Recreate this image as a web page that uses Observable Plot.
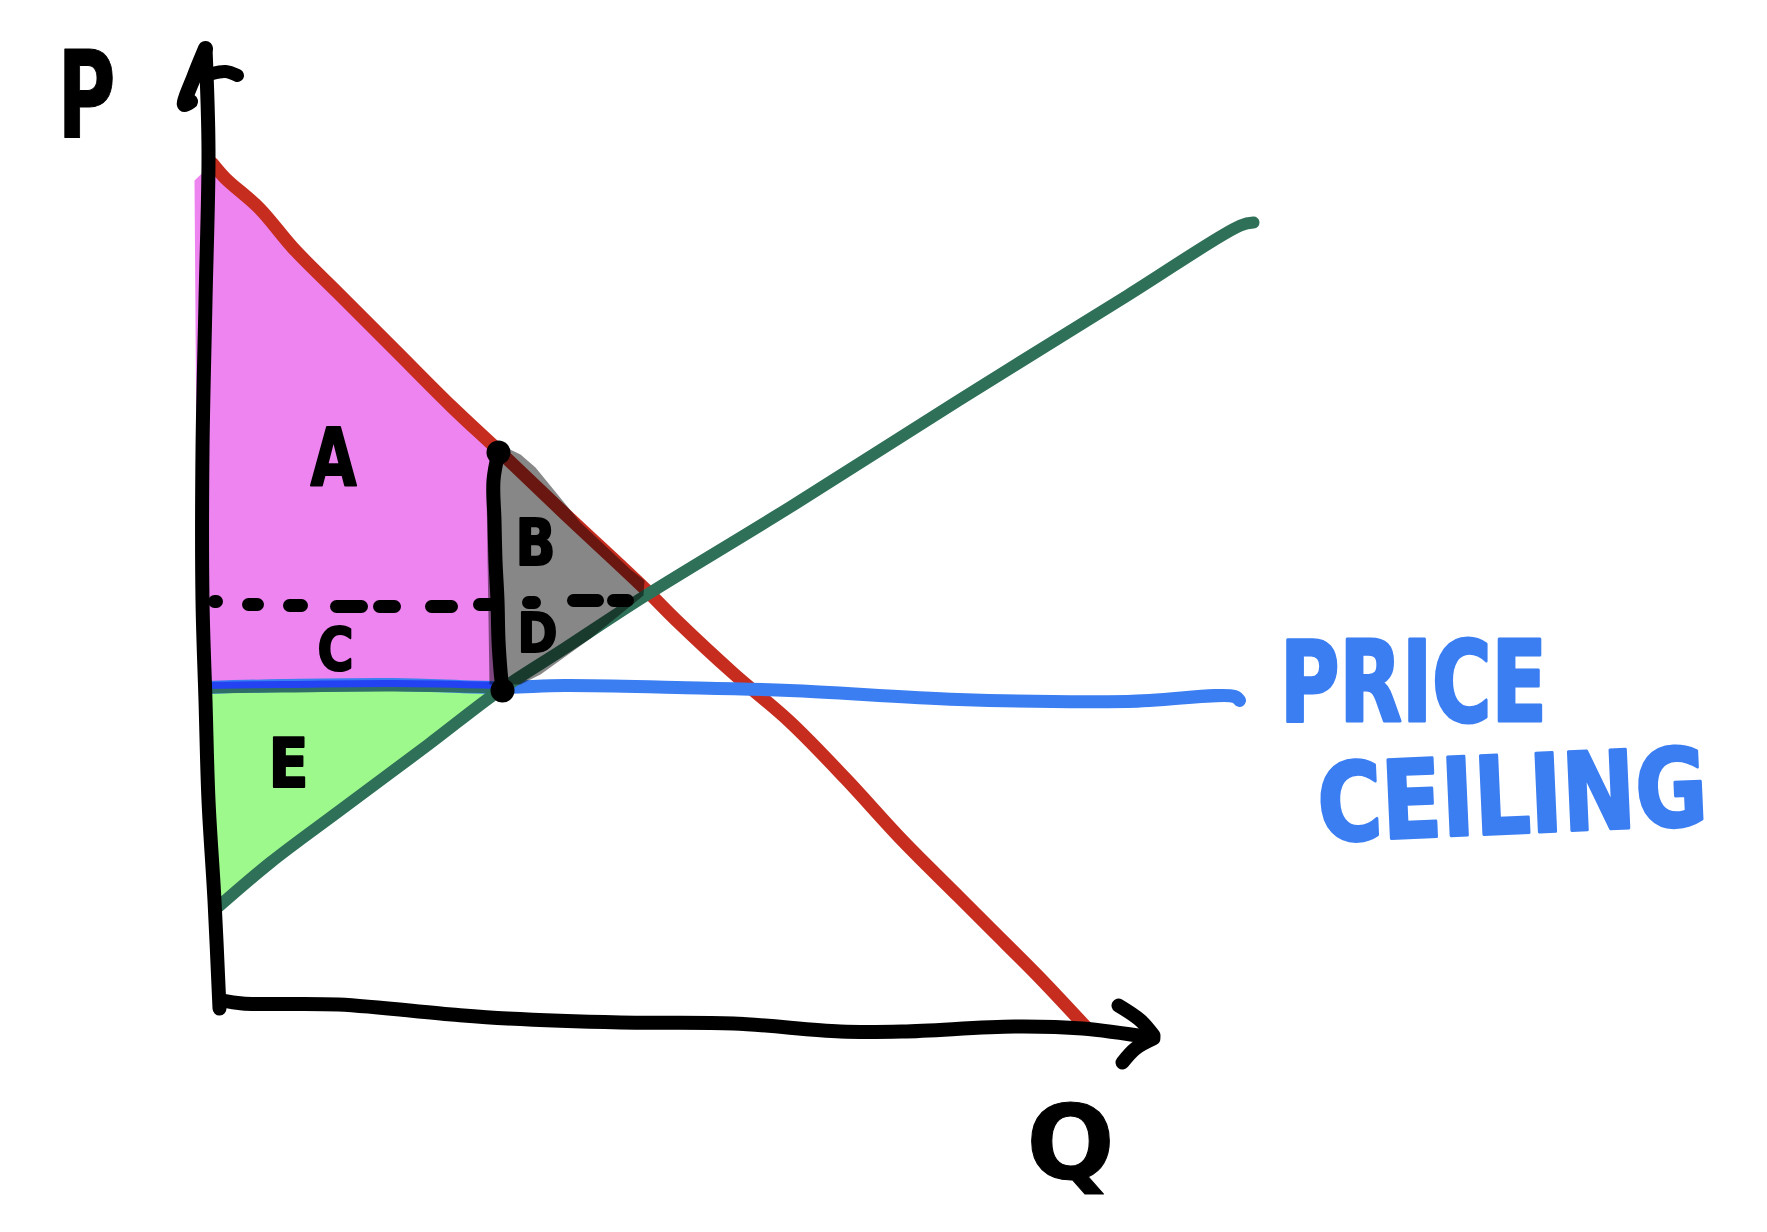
<!DOCTYPE html>
<html>
<head>
<meta charset="utf-8">
<script src="https://cdn.jsdelivr.net/npm/d3@7"></script>
<script src="https://cdn.jsdelivr.net/npm/@observablehq/plot@0.6"></script>
<style>
  html, body { margin: 0; padding: 0; background: #ffffff; }
  #chart svg { display: block; }
</style>
</head>
<body>
<div id="chart"></div>
<script>
// ---- data (Q = quantity, P = price) ----
const demandQ = [0.2, 1.5, 4.9, 8.3, 12.8, 18.4, 24.1, 28.9, 35.4, 43.2, 46.6, 52.3, 57.9, 63.5, 69.2, 74.8, 78.2, 82.7, 87.5];
const demandP = [84.7, 83.2, 80.2, 76.2, 71.7, 66.1, 60.4, 55.9, 49.7, 42.4, 39.0, 33.7, 28.9, 23.2, 17.0, 11.4, 8.0, 3.5, -1.6];

const supplyQ = [0.7, 6.0, 12.8, 21.8, 28.9, 35.4, 43.2, 57.9, 74.8, 91.7, 103.0, 104.3];
const supplyP = [10.3, 14.8, 19.9, 26.6, 32.0, 36.2, 41.3, 50.3, 61.0, 71.5, 78.5, 78.8];

const ceilingQ = [-0.4, 7.2, 18.4, 28.9, 35.4, 46.6, 57.9, 74.8, 91.7, 102.4, 102.9];
const ceilingP = [32.3, 32.5, 32.6, 32.3, 32.5, 32.3, 32.0, 31.1, 30.9, 31.4, 31.0];

const ceilingLeftQ = [-0.4, 7.2, 18.4, 28.9];
const ceilingLeftP = [32.5, 32.6, 32.7, 32.5];

// shaded regions
const pinkQ = [-1.6, 0.2, 1.5, 4.9, 8.3, 12.8, 18.4, 24.1, 28.4, 28.4, -0.8, -1.4];
const pinkP = [83.0, 84.7, 83.2, 80.2, 76.2, 71.7, 66.1, 60.4, 56.2, 32.3, 32.3, 55.0];

const greenQ = [-0.8, 28.8, 21.8, 12.8, 6.0, 0.7, -0.3, -1.0];
const greenP = [32.3, 32.3, 26.6, 19.9, 14.8, 10.3, 12.0, 28.0];

const greyQ = [27.6, 28.2, 29.3, 31.0, 32.5, 37.0, 42.0, 43.4, 43.3, 38.0, 33.0, 31.0, 27.9];
const greyP = [52.0, 55.2, 56.4, 55.6, 54.3, 48.8, 44.1, 43.0, 41.5, 37.2, 33.6, 32.6, 32.6];

// vertical line at the ceiling quantity
const vertQ = [28.8, 28.3, 28.4, 28.5, 28.7, 28.8, 29.0, 29.2];
const vertP = [55.8, 53.0, 49.0, 45.0, 41.0, 37.0, 34.0, 32.0];

// dashed equilibrium price line (centres of the dash end caps)
const dashQ1 = [0.4, 3.8, 7.9, 12.6, 16.9, 22.1, 26.9, 31.8, 36.3, 40.3];
const dashQ2 = [0.6, 4.7, 9.1, 15.1, 18.4, 24.1, 28.1, 32.4, 38.7, 41.7];
const dashP  = [40.9, 40.6, 40.5, 40.4, 40.4, 40.4, 40.6, 40.8, 41.0, 41.0];

// axes
const yAxisQ = [0.9, 0.4, -0.2, -0.5, -0.8, -0.8, -0.5, -0.2, -0.5];
const yAxisP = [0.2, 11.0, 21.0, 31.0, 41.0, 56.0, 71.0, 86.0, 96.2];
const yArrowLeftQ = [-0.5, -1.6, -2.6, -2.0];
const yArrowLeftP = [96.2, 93.5, 90.6, 90.9];
const yArrowRightQ = [0.2, 1.5, 2.7];
const yArrowRightP = [93.7, 93.9, 93.5];

const xAxisQ = [1.2, 3.2, 12.8, 24.1, 29.7, 41.0, 52.3, 63.0, 69.2, 80.4, 87.2, 94.0];
const xAxisP = [1.0, 0.7, 0.6, -0.4, -0.8, -1.2, -1.3, -2.1, -2.1, -1.6, -1.8, -2.7];
const xArrowUpQ = [90.8, 93.0, 94.3];
const xArrowUpP = [0.5, -1.0, -2.5];
const xArrowLowQ = [94.3, 92.5, 91.2];
const xArrowLowP = [-2.8, -3.8, -5.2];

// labels
const regionLabels = ["A", "B", "C", "D", "E"];
const regionQ = [12.3, 32.5, 12.5, 32.7, 7.8];
const regionP = [55.0, 46.6, 35.9, 37.6, 24.5];

const axisLabels = ["P", "Q"];
const axisLabelQ = [-12.4, 86.0];
const axisLabelP = [91.2, -13.5];

const ceilingWords = ["PRICE", "CEILING"];
const ceilingWordQ = [120.3, 130.2];
const ceilingWordP = [32.5, 21.2];

// ---- helpers ----
const pts = (qs, ps) => qs.map((q, i) => ({q, p: ps[i]}));
const labelRows = (ts, qs, ps) => ts.map((t, i) => ({t, q: qs[i], p: ps[i]}));
const dashRows = dashQ1.map((q1, i) => ({q1, q2: dashQ2[i], p: dashP[i]}));

// styling (glyph sizes / drawn widths in px)
const letterSize = {A: 80, B: 64, C: 58, D: 55, E: 68, P: 122, Q: 104};
const letterWidth = {A: 46, B: 40, C: 36, D: 40, E: 40, P: 58, Q: 88, PRICE: 267, CEILING: 390};
const handFont = "'DejaVu Sans Condensed', 'DejaVu Sans', sans-serif";

const RED = "#c62d1f", GREEN = "#2f7058", BLUE = "#3b7ef2", INK = "#000000";

const lineOpts = (color, w) => ({x: "q", y: "p", stroke: color, strokeWidth: w, strokeLinecap: "round", strokeLinejoin: "round", curve: "catmull-rom"});

const vert = pts(vertQ, vertP);

const chart = Plot.plot({
  width: 1767,
  height: 1232,
  margin: 0,
  x: {domain: [-21, 155.7], axis: null},
  y: {domain: [-22.2, 101], axis: null},
  style: {background: "#ffffff", overflow: "visible"},
  marks: [
    // fills
    Plot.line(pts(pinkQ, pinkP), {x: "q", y: "p", fill: "#ee84f0", stroke: "none"}),
    Plot.line(pts(greenQ, greenP), {x: "q", y: "p", fill: "#9ef98c", stroke: "none"}),

    // curves
    Plot.line(pts(demandQ, demandP), lineOpts(RED, 13)),
    Plot.line(pts(ceilingQ, ceilingP), lineOpts(BLUE, 13)),
    Plot.line(pts(ceilingLeftQ, ceilingLeftP.map(v => v - 0.45)), lineOpts("#2f6e66", 7)),
    Plot.line(pts(ceilingLeftQ, ceilingLeftP), lineOpts("#2343f2", 7)),
    Plot.line(pts(supplyQ, supplyP), lineOpts(GREEN, 12)),

    // grey deadweight-loss overlay (semi-transparent, over the lines)
    Plot.line(pts(greyQ, greyP), {x: "q", y: "p", fill: "#000000", fillOpacity: 0.47, stroke: "none"}),

    // axes
    Plot.line(pts(yAxisQ, yAxisP), lineOpts(INK, 14)),
    Plot.line(pts(yArrowLeftQ, yArrowLeftP), lineOpts(INK, 15)),
    Plot.line(pts(yArrowRightQ, yArrowRightP), lineOpts(INK, 13)),
    Plot.line(pts(xAxisQ, xAxisP), lineOpts(INK, 14)),
    Plot.line(pts(xArrowUpQ, xArrowUpP), lineOpts(INK, 14)),
    Plot.line(pts(xArrowLowQ, xArrowLowP), lineOpts(INK, 14)),

    // vertical line and dashed line
    Plot.line(vert, lineOpts(INK, 14)),
    Plot.dot([vert[0], vert[vert.length - 1]], {x: "q", y: "p", r: 12, fill: INK, stroke: "none"}),
    Plot.link(dashRows, {x1: "q1", x2: "q2", y1: "p", y2: "p", stroke: INK, strokeWidth: 13, strokeLinecap: "round"}),

    // region letters
    Plot.text(labelRows(regionLabels, regionQ, regionP), {
      x: "q", y: "p", text: "t",
      fontSize: d => letterSize[d.t], fontWeight: "bold", fontFamily: handFont,
      fill: INK, stroke: INK, strokeWidth: 2
    }),
    // axis letters
    Plot.text(labelRows(axisLabels, axisLabelQ, axisLabelP), {
      x: "q", y: "p", text: "t",
      fontSize: d => letterSize[d.t], fontWeight: "bold", fontFamily: handFont,
      fill: INK, stroke: INK, strokeWidth: 1
    }),
    // price ceiling annotation
    Plot.text(labelRows(ceilingWords, ceilingWordQ, ceilingWordP).slice(0, 1), {
      x: "q", y: "p", text: "t",
      fontSize: 112, fontWeight: "bold", fontFamily: handFont,
      fill: BLUE, stroke: BLUE, strokeWidth: 3
    }),
    Plot.text(labelRows(ceilingWords, ceilingWordQ, ceilingWordP).slice(1), {
      x: "q", y: "p", text: "t",
      fontSize: 108, fontWeight: "bold", fontFamily: handFont,
      fill: BLUE, stroke: BLUE, strokeWidth: 3, rotate: -2.5
    })
  ]
});

// squeeze the glyphs horizontally to match the narrow hand lettering
d3.select(chart).selectAll("text").each(function () {
  const t = this.textContent;
  if (letterWidth[t] != null) {
    this.setAttribute("textLength", letterWidth[t]);
    this.setAttribute("lengthAdjust", "spacingAndGlyphs");
  }
});

document.getElementById("chart").appendChild(chart);
</script>
</body>
</html>
